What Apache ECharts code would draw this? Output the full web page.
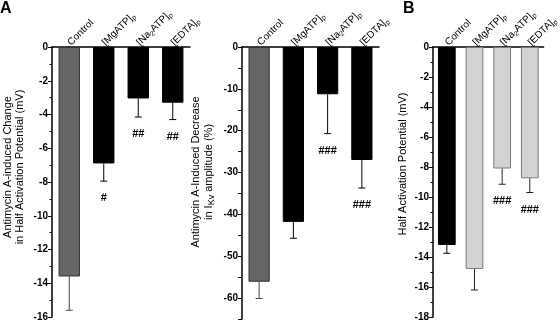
<!DOCTYPE html>
<html>
<head>
<meta charset="utf-8">
<script src="https://cdn.jsdelivr.net/npm/echarts@6/dist/echarts.min.js"></script>
<style>
  html, body { margin: 0; padding: 0; background: #fff; }
  #main { width: 560px; height: 322px; }
</style>
</head>
<body>
<div id="main"></div>
<script>
const categories = ['Control', '[MgATP]p', '[Na2ATP]p', '[EDTA]p'];

// A, left: antimycin A-induced change in half activation potential (mV)
const shiftMean = [-13.6, -6.9, -3.05, -3.3];
const shiftErr = [-15.6, -7.95, -4.15, -4.3];
const shiftSig = ['', '#', '##', '##'];

// A, right: antimycin A-induced decrease in IKv amplitude (%)
const ikvMean = [-56.1, -41.8, -11.3, -27.0];
const ikvErr = [-60.1, -45.7, -20.7, -33.7];
const ikvSig = ['', '', '###', '###'];

// B: half activation potential (mV)
const vhalfMean = [-13.2, -14.8, -8.1, -8.75];
const vhalfErr = [-13.75, -16.2, -9.15, -9.7];
const vhalfSig = ['', '', '###', '###'];

var myChart = echarts.init(document.getElementById('main'));

const font = 'Arial, "Liberation Sans", sans-serif';

// panel layout and looks
const panels = [
  { left: 52, width: 138, min: -16, interval: 2, minor: 2, mean: shiftMean, err: shiftErr, sig: shiftSig,
    fill: ['#666666', '#000', '#000', '#000'], border: ['#333', '#000', '#000', '#000'],
    errColor: ['#444', '#000', '#000', '#000'], barWidth: '62%' },
  { left: 242, width: 137, min: -65, interval: 5, minor: 0, mean: ikvMean, err: ikvErr, sig: ikvSig,
    fill: ['#666666', '#000', '#000', '#000'], border: ['#333', '#000', '#000', '#000'],
    errColor: ['#444', '#000', '#000', '#000'], barWidth: '62%', every: 10 },
  { left: 433, width: 123, min: -18, interval: 2, minor: 2, mean: vhalfMean, err: vhalfErr, sig: vhalfSig,
    fill: ['#000', '#d3d3d3', '#d3d3d3', '#d3d3d3'], border: ['#000', '#7a7a7a', '#7a7a7a', '#7a7a7a'],
    errColor: ['#000', '#222', '#222', '#222'], barWidth: '64%' }
];

function catLabel(v) {
  return v.replace('Na2', 'Na{s|2}').replace(/\]p$/, ']{s|p}');
}

const grid = [], xAxis = [], yAxis = [], series = [];

panels.forEach(function (p, i) {
  grid.push({ left: p.left, width: p.width, top: 47, height: 272 });
  xAxis.push({
    type: 'category', gridIndex: i, position: 'top', data: categories,
    axisLine: { lineStyle: { color: '#000', width: 1.5 } },
    axisTick: { alignWithLabel: true, length: 4, lineStyle: { color: '#000' } },
    axisLabel: {
      rotate: 45, margin: 3, fontSize: 10, fontFamily: font, color: '#000',
      formatter: catLabel,
      rich: { s: { fontSize: 7, fontFamily: font, padding: [6, 0, 0, 0] } }
    }
  });
  yAxis.push({
    type: 'value', gridIndex: i, min: p.min, max: 0, interval: p.interval,
    axisLine: { show: true, lineStyle: { color: '#000', width: 1.5 } },
    axisTick: { show: true, length: 4, lineStyle: { color: '#000' } },
    minorTick: { show: p.minor > 0, splitNumber: p.minor, length: 2.5, lineStyle: { color: '#000' } },
    splitLine: { show: false },
    axisLabel: {
      margin: 4, fontSize: 10, fontWeight: 'bold', fontFamily: font, color: '#000',
      formatter: function (v) {
        if (p.every && v % p.every !== 0) return '';
        return v === 0 ? '0' : String(v);
      }
    }
  });
  series.push({
    type: 'bar', xAxisIndex: i, yAxisIndex: i, barWidth: p.barWidth,
    data: p.mean.map(function (v, k) {
      return { value: v, itemStyle: { color: p.fill[k], borderColor: p.border[k], borderWidth: 1 } };
    })
  });
  series.push({
    type: 'custom', xAxisIndex: i, yAxisIndex: i, z: 3,
    data: p.mean.map(function (v, k) { return [k, v, p.err[k]]; }),
    renderItem: function (params, api) {
      const k = params.dataIndex;
      const a = api.coord([api.value(0), api.value(1)]);
      const b = api.coord([api.value(0), api.value(2)]);
      const c = p.errColor[k];
      const kids = [
        { type: 'line', shape: { x1: a[0], y1: a[1], x2: b[0], y2: b[1] }, style: { stroke: c, lineWidth: 1 } },
        { type: 'line', shape: { x1: b[0] - 3.5, y1: b[1], x2: b[0] + 3.5, y2: b[1] }, style: { stroke: c, lineWidth: 1 } }
      ];
      if (p.sig[k]) {
        kids.push({
          type: 'text', x: b[0], y: b[1] + 17,
          style: { text: p.sig[k], fill: '#000', font: 'bold 11px ' + font, align: 'center', verticalAlign: 'middle' }
        });
      }
      return { type: 'group', children: kids };
    }
  });
});

function yName(x, y, text, rich) {
  return {
    type: 'text', x: x, y: y, rotation: Math.PI / 2,
    style: { text: text, font: '11px ' + font, fill: '#000', align: 'center', verticalAlign: 'middle', rich: rich || {} }
  };
}

myChart.setOption({
  animation: false,
  grid: grid,
  xAxis: xAxis,
  yAxis: yAxis,
  series: series,
  graphic: [
    { type: 'text', x: 0, y: 1, style: { text: 'A', font: 'bold 16px ' + font, fill: '#000' } },
    { type: 'text', x: 403, y: 1, style: { text: 'B', font: 'bold 16px ' + font, fill: '#000' } },
    yName(8, 167, 'Antimycin A-induced Change'),
    yName(20, 167, 'in Half Activation Potential (mV)'),
    yName(196, 172, 'Antimycin A-Induced Decrease'),
    yName(209, 172, 'in I{s|Kv} amplitude (%)', { s: { font: '9px ' + font, padding: [5, 0, 0, 0] } }),
    yName(403, 164, 'Half Activation Potential (mV)')
  ]
});
</script>
</body>
</html>
